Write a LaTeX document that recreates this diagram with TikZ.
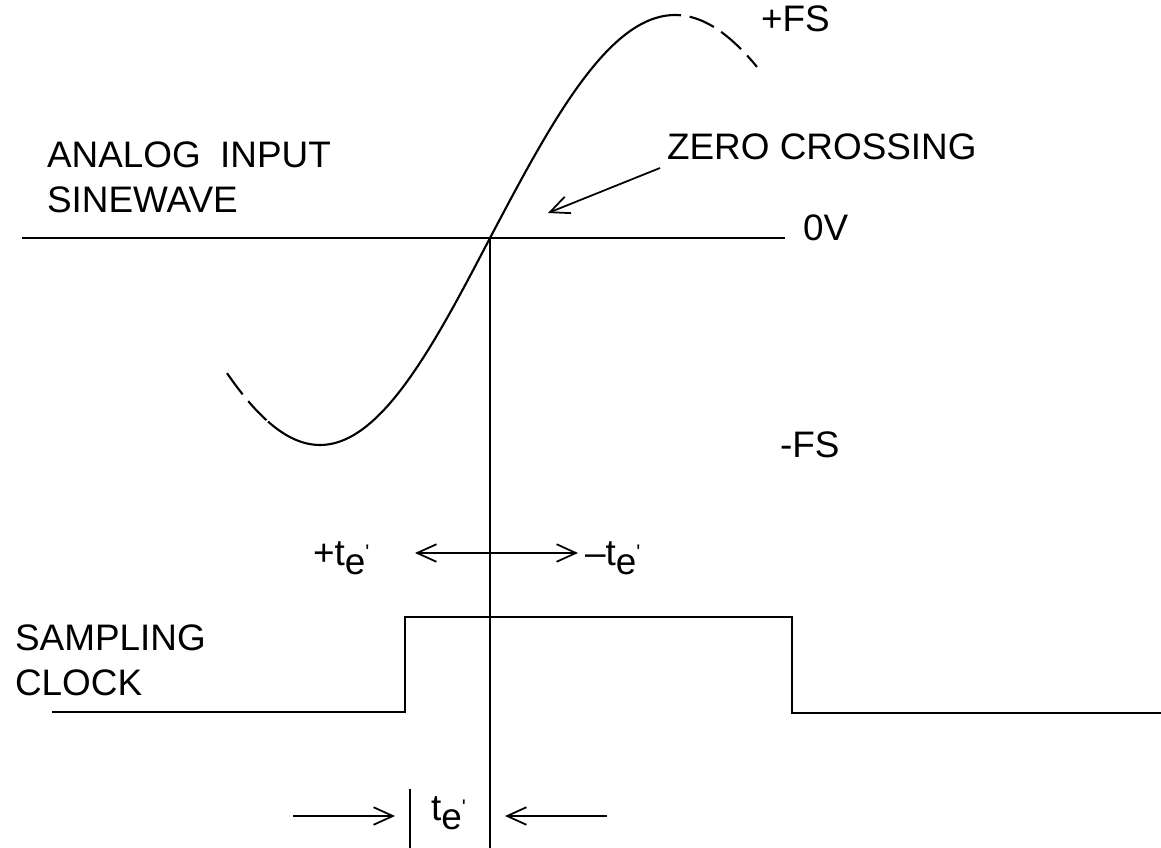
\documentclass[tikz,border=0pt]{standalone}
\usepackage{fontspec}
\setmainfont{Liberation Sans}
\usetikzlibrary{arrows.meta}
\newcommand{\tep}{t\raisebox{-5.5pt}{e}\raisebox{3pt}{\fontsize{12}{12}\selectfont\textquotesingle}}

\begin{document}
\begin{tikzpicture}[>={Straight Barb[length=11pt,width=10pt]},x=0.02cm,y=-0.02cm,line width=1.2pt,
    lbl/.style={anchor=base west,inner sep=0pt,font=\fontsize{21}{25}\selectfont},
    faded/.style={dash pattern=on 15pt off 5pt}]
    \useasboundingbox (0,0) rectangle (1161,848);

    \coordinate (zl) at (22,238);
    \coordinate (zr) at (785,238);
    \coordinate (zc) at (490,238);
    \coordinate (zb) at (490,848);
    \draw (zl)--(zr);
    \draw (zc)--(zb);

    \draw[faded] plot[domain=227:268,smooth,samples=10] (\x,{238+207*sin((490-\x)/170*90)});
    \draw plot[domain=268:490,smooth,samples=40] (\x,{238+207*sin((490-\x)/170*90)});
    \draw plot[domain=490:655,smooth,samples=40] (\x,{238-223*sin((\x-490)/185*90)});
    \draw[faded] plot[domain=655:757,smooth,samples=20] (\x,{238-223*sin((\x-490)/185*90)});

    \node[lbl] (fsp) at (760,32) {+FS};
    \node[lbl] (zv) at (802,240) {0V};
    \node[lbl] (fsm) at (779,457) {-FS};
    \node[lbl] (ain) at (46,168) {ANALOG\hspace{11pt}INPUT};
    \node[lbl] (sin) at (46,213) {SINEWAVE};
    \node[lbl] (zcl) at (666,160) {ZERO CROSSING};
    \coordinate (zca) at (660,168);
    \coordinate (zct) at (548,213);
    \draw[->,line width=1pt] (zca)--(zct);

    \node[lbl] (tp) at (312,565) {+\tep};
    \node[lbl] (tm) at (584,565) {--\tep};
    \coordinate (ta) at (415,553);
    \coordinate (tb) at (578,553);
    \draw[<->,line width=1pt] (ta)--(tb);

    \node[lbl] (smp) at (14,650) {SAMPLING};
    \node[lbl] (clk) at (14,695) {CLOCK};
    \coordinate (c0) at (52,712);
    \coordinate (c1) at (405,712);
    \coordinate (c2) at (405,617);
    \coordinate (c3) at (792,617);
    \coordinate (c4) at (792,713);
    \coordinate (c5) at (1161,713);
    \draw (c0)--(c1)--(c2)--(c3)--(c4)--(c5);

    \coordinate (bt) at (410,789);
    \coordinate (bb) at (410,848);
    \draw (bt)--(bb);
    \node[lbl] (te) at (430,820) {\tep};
    \coordinate (la) at (293,816);
    \coordinate (lb) at (395,816);
    \coordinate (ra) at (607,816);
    \coordinate (rb) at (505,816);
    \draw[->,line width=1pt] (la)--(lb);
    \draw[->,line width=1pt] (ra)--(rb);
\end{tikzpicture}
\end{document}
